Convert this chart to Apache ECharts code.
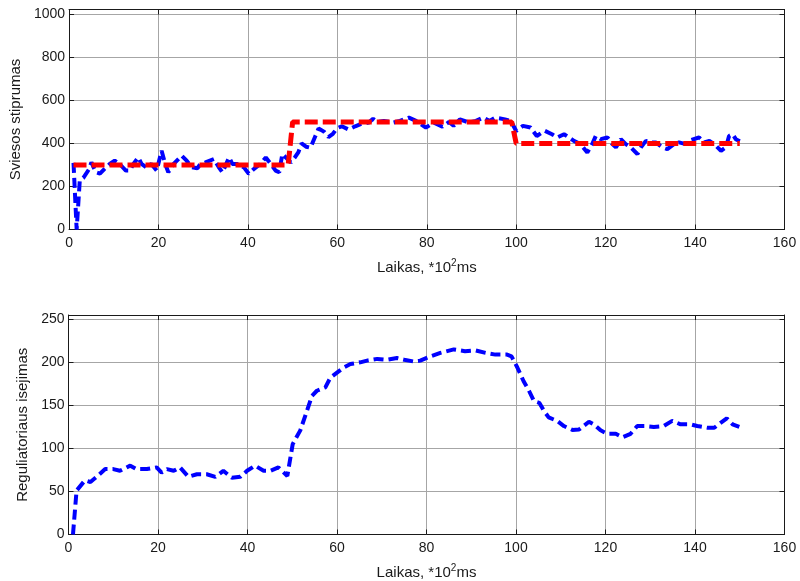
<!DOCTYPE html>
<html>
<head>
<meta charset="utf-8">
<script src="https://cdn.jsdelivr.net/npm/echarts@6/dist/echarts.min.js"></script>
<style>
  html, body { margin: 0; padding: 0; background: #fff; }
  #chart { width: 800px; height: 581px; }
</style>
</head>
<body>
<div id="chart"></div>
<script>
// Measured light intensity (time in units of 100 ms)
const tLight = [1, 1.7, 2.4, 3.2, 4.4, 5, 6, 6.9, 8, 9.1, 10.2, 11.3, 12.7, 13.6, 14.4, 15.5, 16.2, 17.3, 18.4, 19.6,
  20.7, 21.5, 22.2, 23.4, 25.2, 26.3, 27.4, 28.7, 29.4, 30.5, 32.4, 33.5, 34.3, 35.8, 36.5, 37.6, 39.1, 40.2, 41.3, 42.8,
  44, 45.1, 46.2, 47, 47.7, 48.8, 49.6, 50.5, 51.3, 52, 53, 54, 55, 55.8, 57, 58, 59, 60, 61, 62.5, 64, 65.2, 67, 68, 69,
  70.4, 72.5, 74, 76, 77.6, 79.8, 81.6, 83.5, 85, 86, 87.4, 89.5, 91, 92.6, 94, 95.3, 97.5, 98.8, 100, 101.5, 103.2,
  104.6, 106.4, 108, 109.2, 110.7, 111.8, 112.9, 114.4, 115.9, 117, 117.8, 118.9, 120.4, 121.5, 122.3, 123.4, 124.5,
  125.6, 127.1, 127.9, 129, 130.1, 131.2, 132.7, 133.8, 135.3, 136.4, 137.9, 138.6, 140.9, 142, 143.2, 144.3, 145.8,
  146.9, 147.6, 148.4, 149.1, 150];
const vLight = [310, 0, 228, 240, 278, 312, 266, 260, 283, 305, 320, 305, 274, 274, 305, 335, 305, 289, 305, 274,
  366, 305, 266, 305, 343, 320, 290, 285, 305, 312, 328, 289, 266, 335, 305, 305, 289, 259, 281, 305,
  335, 305, 274, 266, 351, 328, 312, 335, 360, 400, 385, 380, 430, 470, 455, 430, 445, 472, 480, 465, 480, 490, 497, 515, 500,
  505, 497, 505, 520, 505, 474, 497, 478, 500, 482, 512, 497, 505, 520, 505, 520, 512, 505, 458, 482, 474,
  435, 459, 443, 428, 443, 428, 412, 397, 358, 397, 435, 420, 428, 397, 382, 420, 397,
  382, 351, 382, 412, 405, 405, 382, 374, 397, 405, 397, 412, 428, 405, 412, 397, 366,
  382, 435, 443, 420, 410];

// Set point
const tRef = [1, 49, 50, 99, 100, 150];
const vRef = [300, 300, 500, 500, 400, 400];

// Controller output
const tOut = [1, 1.8, 3.7, 4.9, 6.3, 8.2, 10, 11.5, 13.8, 15.2, 17.5, 19.7, 20.8, 22, 23.5, 24.9, 26.8, 28.7, 30.9, 32.8,
  34.6, 36.5, 38.4, 39.9, 41.7, 43.6, 45.1, 46.9, 48.9, 50.1, 51.8, 53.3, 54.4, 55.5, 57.4, 58.5, 60, 61.5, 63, 65.2,
  66.7, 69, 71.2, 73.4, 75, 77.1, 78.6, 80.9, 83.1, 86.1, 88.6, 90.9, 93.2, 95.4, 98, 99, 100.3, 101.7, 102.9, 104,
  105.2, 106.2, 107.3, 109.2, 110.7, 112.6, 114.1, 116.3, 117.4, 118.9, 120.4, 122.3, 123.8, 125.6, 127.1, 129, 130.8,
  133, 134.9, 136.8, 139, 140.5, 142.8, 144.3, 145.8, 147.1, 148.4, 149.9];
const vOut = [0, 51, 63, 61, 67, 76, 76, 74, 80, 76, 76, 78, 72, 76, 74, 78, 67, 70, 70, 67,
  74, 66, 67, 74, 80, 74, 74, 78, 68, 105, 121, 144, 161, 167, 171, 182, 188, 194, 198, 200,
  202, 204, 203, 205, 203, 201, 202, 207, 211, 215, 213, 214, 211, 209, 209, 207, 194, 178, 167, 155,
  153, 144, 136, 132, 126, 121.5, 122, 131, 128, 121, 117, 117, 113, 117, 126, 126, 125,
  126, 132, 128, 128, 126, 124, 124, 130, 135, 128, 125];

const xTicks = { min: 0, max: 160, interval: 20 };
const yTicksTop = { min: 0, max: 1023, interval: 200 };
const yTicksBottom = { min: 0, max: 255, interval: 50 };

const pairs = (ts, vs) => ts.map((t, i) => [t, vs[i]]);

const FONT = 'Liberation Sans, Arial, sans-serif';
const TXT = '#1a1a1a';
const gridLine = { show: true, lineStyle: { color: '#a6a6a6', width: 1, type: 'solid' } };
const boxLine = { show: true, onZero: false, lineStyle: { color: '#1a1a1a', width: 1 } };
const tick = { show: true, inside: true, length: 5, lineStyle: { color: '#1a1a1a' } };

function xMain(gridIndex) {
  return {
    type: 'value', gridIndex, position: 'bottom', ...xTicks,
    name: 'Laikas, *10{sup|2}ms', nameLocation: 'middle', nameGap: 29,
    nameTextStyle: {
      fontFamily: FONT, fontSize: 15, color: TXT,
      rich: { sup: { fontFamily: FONT, fontSize: 10, color: TXT, verticalAlign: 'top', padding: [0, 0, 8, 0] } }
    },
    axisLine: boxLine, axisTick: tick, splitLine: gridLine,
    axisLabel: { fontFamily: FONT, fontSize: 14, color: TXT, margin: 7 }
  };
}
function xBox(gridIndex) {
  return {
    type: 'value', gridIndex, position: 'top', ...xTicks,
    axisLine: boxLine, axisTick: tick, splitLine: { show: false }, axisLabel: { show: false }
  };
}
function yMain(gridIndex, ticks, name, gap) {
  return {
    type: 'value', gridIndex, position: 'left', ...ticks,
    name, nameLocation: 'middle', nameGap: gap, nameRotate: 90,
    nameTextStyle: { fontFamily: FONT, fontSize: 15, color: TXT },
    axisLine: boxLine, axisTick: tick, splitLine: gridLine,
    axisLabel: { fontFamily: FONT, fontSize: 14, color: TXT, margin: 4,
      showMaxLabel: true, formatter: v => (v % ticks.interval === 0 ? String(v) : '') }
  };
}
function yBox(gridIndex, ticks) {
  return {
    type: 'value', gridIndex, position: 'right', ...ticks,
    axisLine: boxLine, axisTick: tick, splitLine: { show: false }, axisLabel: { show: false }
  };
}

const dashBlue = { color: '#0000ff', width: 4, type: [10, 5], cap: 'butt' };
const dashRed = { color: '#ff0000', width: 5, type: [13, 5], cap: 'butt' };

const chart = echarts.init(document.getElementById('chart'), null, { renderer: 'canvas' });
chart.setOption({
  animation: false,
  backgroundColor: '#ffffff',
  grid: [
    { left: 68.5, right: 15.5, top: 9.5, height: 220 },
    { left: 68.5, right: 15.5, top: 315, height: 219.5 }
  ],
  xAxis: [xMain(0), xBox(0), xMain(1), xBox(1)],
  yAxis: [
    yMain(0, yTicksTop, 'Sviesos stiprumas', 42),
    yBox(0, yTicksTop),
    yMain(1, yTicksBottom, 'Reguliatoriaus isejimas', 33),
    yBox(1, yTicksBottom)
  ],
  series: [
    { type: 'line', xAxisIndex: 0, yAxisIndex: 0, data: pairs(tLight, vLight),
      symbol: 'none', lineStyle: dashBlue, z: 2 },
    { type: 'line', xAxisIndex: 0, yAxisIndex: 0, data: pairs(tRef, vRef),
      symbol: 'none', lineStyle: dashRed, z: 3 },
    { type: 'line', xAxisIndex: 2, yAxisIndex: 2, data: pairs(tOut, vOut),
      symbol: 'none', lineStyle: dashBlue, z: 2 }
  ]
});
</script>
</body>
</html>
